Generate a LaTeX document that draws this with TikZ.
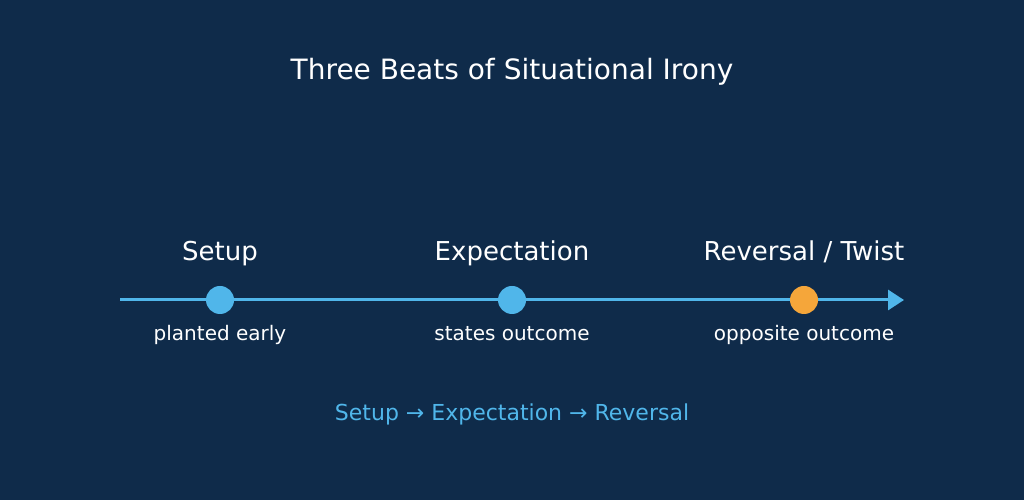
\documentclass[tikz,border=0pt]{standalone}
\usepackage{fontspec}
\setmainfont{DejaVu Sans}
\usetikzlibrary{arrows.meta}
\definecolor{bgc}{RGB}{15,43,74}
\definecolor{accent}{RGB}{80,182,234}
\definecolor{twist}{RGB}{245,166,58}
\tikzset{
  beat/.style={circle,inner sep=0pt,minimum size=28pt,fill=accent},
  beatlabel/.style={anchor=base,text=white,font=\fontsize{26}{30}\selectfont,inner sep=0pt},
  sublabel/.style={anchor=base,text=white,font=\fontsize{20}{24}\selectfont,inner sep=0pt},
  axis/.style={draw=accent,line width=3pt,-{Triangle[length=16pt,width=20pt]}}
}
\begin{document}
\begin{tikzpicture}[x=1pt,y=1pt]
\fill[bgc] (0,0) rectangle (1024,500);
\useasboundingbox (0,0) rectangle (1024,500);
\node[anchor=base,text=white,font=\fontsize{28}{32}\selectfont,inner sep=0pt] (title) at (512,420) {Three Beats of Situational Irony};
\coordinate (start) at (120,200);
\coordinate (end) at (904,200);
\draw[axis] (start) -- (end);
\node[beat] (b1) at (220,200) {};
\node[beat] (b2) at (512,200) {};
\node[beat,fill=twist] (b3) at (804,200) {};
\node[beatlabel] (l1) at (220,239) {Setup};
\node[beatlabel] (l2) at (512,239) {Expectation};
\node[beatlabel] (l3) at (804,239) {Reversal / Twist};
\node[sublabel] (s1) at (220,159) {planted early};
\node[sublabel] (s2) at (512,159) {states outcome};
\node[sublabel] (s3) at (804,159) {opposite outcome};
\node[anchor=base,text=accent,font=\fontsize{22}{26}\selectfont,inner sep=0pt] (flow) at (512,79) {Setup → Expectation → Reversal};
\end{tikzpicture}
\end{document}
